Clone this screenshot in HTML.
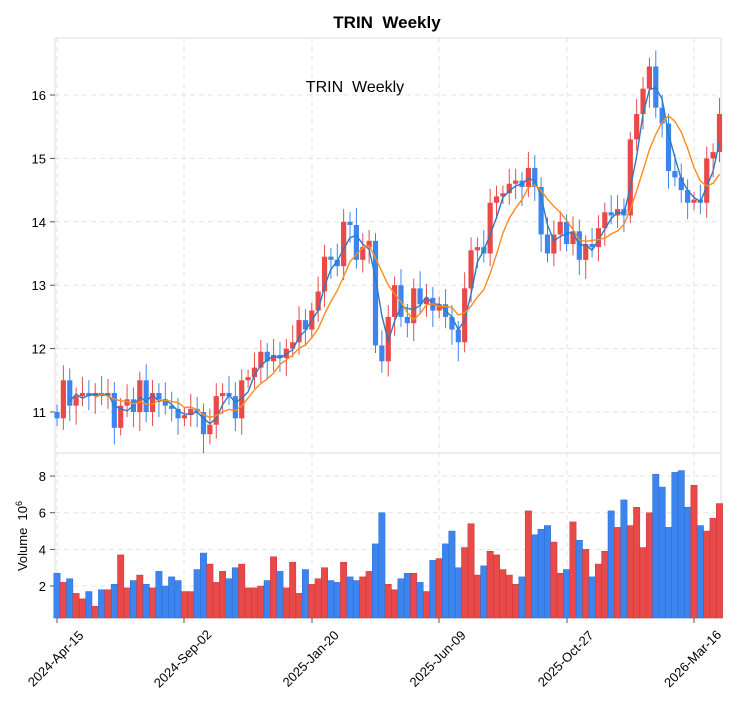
<!DOCTYPE html><html><head><meta charset="utf-8"><style>body{margin:0;background:#fff}svg{font-family:"Liberation Sans",sans-serif}</style></head><body>
<svg id="s" width="741" height="712" xmlns="http://www.w3.org/2000/svg"></svg>
<script>
const C=[10.9,11.5,11.1,11.25,11.3,11.25,11.3,11.25,11.3,10.75,11.1,11.2,11.0,11.5,11.0,11.3,11.2,11.1,11.05,10.9,10.95,11.05,11.0,10.65,10.8,11.25,11.3,11.25,10.9,11.5,11.55,11.7,11.95,11.8,11.9,11.85,12.0,12.1,12.45,12.3,12.6,12.9,13.45,13.4,13.3,14.0,13.95,13.4,13.6,13.7,12.05,11.8,12.5,13.0,12.5,12.4,12.95,12.7,12.8,12.6,12.7,12.5,12.3,12.1,12.95,13.55,13.6,13.5,14.3,14.4,14.45,14.6,14.65,14.55,14.85,14.55,13.8,13.5,13.8,14.0,13.65,13.85,13.4,13.65,13.6,13.9,14.15,14.1,14.2,14.1,15.3,15.7,16.1,16.45,15.8,15.55,14.8,14.7,14.5,14.3,14.35,14.3,15.0,15.1,15.7];
const V=[2.7,2.2,2.4,1.6,1.3,1.7,0.9,1.8,1.8,2.1,3.7,1.9,2.3,2.6,2.1,1.9,2.8,2.0,2.5,2.3,1.7,1.7,2.9,3.8,3.2,2.2,2.8,2.4,3.0,3.2,1.9,1.9,2.0,2.3,3.6,2.8,1.9,3.3,1.6,2.9,2.1,2.4,3.0,2.3,2.2,3.3,2.5,2.3,2.5,2.8,4.3,6.0,2.1,1.8,2.4,2.7,2.7,2.2,1.7,3.4,3.5,4.3,5.0,3.0,4.1,5.4,2.6,3.1,3.9,3.7,2.9,2.6,2.1,2.5,6.1,4.8,5.1,5.3,4.4,2.7,2.9,5.5,4.5,4.0,2.5,3.2,3.9,6.1,5.2,6.7,5.3,6.3,4.1,6.0,8.1,7.4,5.2,8.2,8.3,6.3,7.5,5.3,5.0,5.7,6.5];
const X=i=>57+i*6.37,Y=p=>412-(p-11)*63.4,VY=v=>622.7-v*18.33;
let h='';
h+='<rect x="55" y="38" width="666" height="415" fill="none" stroke="#ddd"/><rect x="55" y="453" width="666" height="165" fill="none" stroke="#ddd"/>';
const xt=[[57,'2024-Apr-15'],[184,'2024-Sep-02'],[312,'2025-Jan-20'],[439,'2025-Jun-09'],[567,'2025-Oct-27'],[694,'2026-Mar-16']];
for(const[x,t]of xt){const cy=663,cx=x-1;h+=`<line x1="${x}" y1="38" x2="${x}" y2="618" stroke="#e3e3e3" stroke-dasharray="5,4"/><line x1="${x}" y1="618" x2="${x}" y2="623" stroke="#555"/><text x="${cx}" y="${cy}" font-size="13" text-anchor="middle" transform="rotate(-45 ${cx} ${cy-4})">${t}</text>`;}
for(let p=11;p<=16;p++){const y=Y(p);h+=`<line x1="55" y1="${y}" x2="721" y2="${y}" stroke="#e3e3e3" stroke-dasharray="5,4"/><line x1="50" y1="${y}" x2="55" y2="${y}" stroke="#555"/><text x="46" y="${y+5}" font-size="13" text-anchor="end">${p}</text>`;}
for(let v=2;v<=8;v+=2){const y=VY(v);h+=`<line x1="55" y1="${y}" x2="721" y2="${y}" stroke="#e3e3e3" stroke-dasharray="5,4"/><line x1="50" y1="${y}" x2="55" y2="${y}" stroke="#555"/><text x="46" y="${y+5}" font-size="13" text-anchor="end">${v}</text>`;}
const n=Math.min(C.length,V.length);
for(let i=0;i<n;i++){const c=C[i],o=i?C[i-1]:11.0,up=c>=o,col=up?'#e84a4a':'#3d85ee';const x=X(i);
const hi=Math.max(c,o)+0.12+((i*37)%10)/60,lo=Math.min(c,o)-0.12-((i*53)%10)/50;
h+=`<line x1="${x}" y1="${Y(hi)}" x2="${x}" y2="${Y(lo)}" stroke="${col}" stroke-width="1"/>`;
const t=Y(Math.max(c,o)),b=Y(Math.min(c,o));h+=`<rect x="${x-2.6}" y="${t}" width="5.2" height="${Math.max(b-t,1.5)}" fill="${col}"/>`;
const vt=VY(V[i]);h+=`<rect x="${x-3.2}" y="${vt}" width="6.37" height="${618-vt}" fill="${col}" stroke="${up?'#c33':'#2a6ad0'}" stroke-width="0.5"/>`;}
function ma(k,col){let d='';for(let i=k-1;i<n;i++){let s=0;for(let j=0;j<k;j++)s+=C[i-j];d+=(d?'L':'M')+X(i).toFixed(1)+','+Y(s/k).toFixed(1);}h+=`<path d="${d}" fill="none" stroke="${col}" stroke-width="1.4"/>`;}
ma(3,'#2b7bbf');ma(7,'#ff8a1c');
h+='<text x="387" y="28" font-size="17" font-weight="bold" text-anchor="middle" xml:space="preserve">TRIN  Weekly</text>';
h+='<text x="355" y="92" font-size="16" text-anchor="middle" xml:space="preserve">TRIN  Weekly</text>';
h+='<text x="27" y="536" font-size="13" text-anchor="middle" transform="rotate(-90 27 536)" xml:space="preserve">Volume  10<tspan font-size="9" dy="-5">6</tspan></text>';
document.getElementById('s').innerHTML=h;
</script></body></html>
